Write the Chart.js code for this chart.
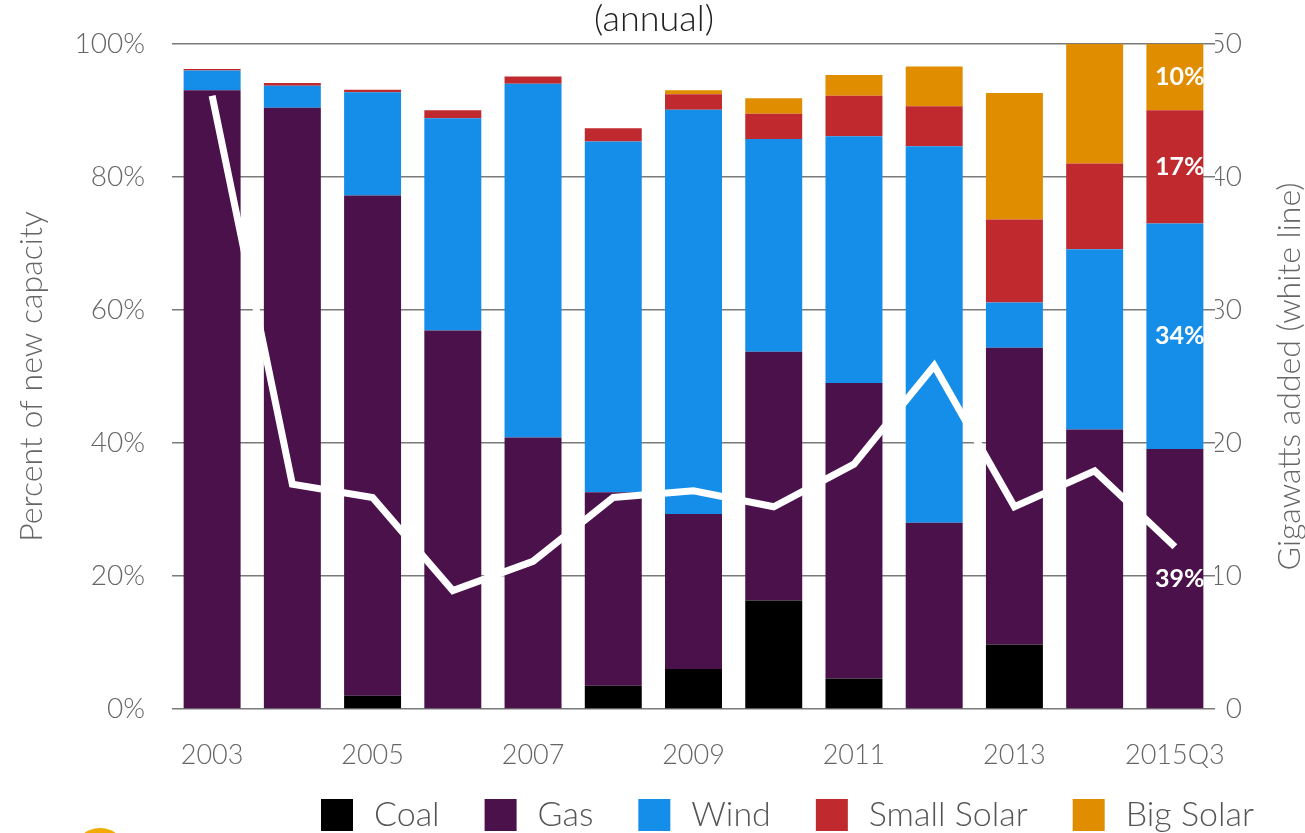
<!DOCTYPE html>
<html lang="en">
<head>
  <meta charset="UTF-8" />
  <title>New capacity (annual)</title>
  <script src="https://cdn.jsdelivr.net/npm/chart.js"></script>
  <style>
    body { margin: 0; background: #fff; }
    canvas { display: block; }
  </style>
</head>
<body>
  <canvas id="mixChart" width="1305" height="833"></canvas>

  <script>
    // values (percent of new capacity, GW added)
    const years = ["2003", "2004", "2005", "2006", "2007", "2008", "2009", "2010", "2011", "2012", "2013", "2014", "2015Q3"];
    const coal = [0, 0, 2.0, 0, 0, 3.5, 6.0, 16.3, 4.6, 0, 9.7, 0, 0];
    const gas = [93.0, 90.4, 75.2, 56.9, 40.8, 29.1, 23.3, 37.4, 44.4, 28.0, 44.6, 42.0, 39.1];
    const wind = [3.0, 3.3, 15.5, 31.9, 53.2, 52.7, 60.8, 32.0, 37.1, 56.6, 6.8, 27.1, 33.9];
    const smallSolar = [0.2, 0.4, 0.4, 1.2, 1.1, 2.0, 2.3, 3.8, 6.1, 6.0, 12.5, 12.9, 17.0];
    const bigSolar = [0, 0, 0, 0, 0, 0, 0.6, 2.3, 3.1, 6.0, 19.0, 18.0, 10.0];
    const gigawatts = [46.1, 16.9, 15.9, 8.9, 11.1, 15.9, 16.4, 15.2, 18.4, 25.8, 15.2, 17.9, 12.2];

    const FONT = "Lato, 'Open Sans', sans-serif";
    const GREY = "#666";

    const bar = (label, data, color) => ({
      type: "bar", label, data, backgroundColor: color,
      categoryPercentage: 1, barPercentage: 0.71, order: 1
    });

    // title, right axis title, legend, last-bar labels
    const extras = {
      id: "extras",
      afterDatasetsDraw(chart) {
        const ctx = chart.ctx;
        const last = chart.data.labels.length - 1;
        ctx.save();
        ctx.fillStyle = "#fff";
        ctx.font = "bold 25px " + FONT;
        ctx.textAlign = "right";
        ctx.textBaseline = "middle";
        chart.data.datasets.forEach((ds, i) => {
          if (ds.type !== "bar" || !ds.data[last]) return;
          const el = chart.getDatasetMeta(i).data[last];
          ctx.fillText(Math.round(ds.data[last]) + "%", el.x + el.width / 2 + 1, (el.y + el.base) / 2);
        });
        ctx.restore();
      },
      afterDraw(chart) {
        const ctx = chart.ctx;
        const area = chart.chartArea;

        ctx.save();
        ctx.fillStyle = "#222";
        ctx.font = "300 36px " + FONT;
        ctx.textAlign = "center";
        ctx.textBaseline = "middle";
        ctx.fillText("(annual)", 654, 19);
        ctx.restore();

        // right axis title, reading bottom to top
        ctx.save();
        ctx.translate(1290, (area.top + area.bottom) / 2);
        ctx.rotate(-Math.PI / 2);
        ctx.fillStyle = GREY;
        ctx.font = "300 32px " + FONT;
        ctx.textAlign = "center";
        ctx.textBaseline = "middle";
        ctx.fillText("Gigawatts added (white line)", 0, 0);
        ctx.restore();

        // legend
        ctx.save();
        ctx.font = "300 34px " + FONT;
        ctx.textBaseline = "middle";
        let x = 321;
        const y = 815;
        chart.data.datasets.filter(d => d.type === "bar").forEach(ds => {
          ctx.fillStyle = ds.backgroundColor;
          ctx.fillRect(x, y - 16, 32, 32);
          ctx.fillStyle = "#555";
          ctx.fillText(ds.label, x + 53, y);
          x += 53 + ctx.measureText(ds.label).width + 45;
        });

        // logo peeking in at the bottom
        ctx.beginPath();
        ctx.arc(100, 855, 27, 0, Math.PI * 2);
        ctx.fillStyle = "#f2a900";
        ctx.fill();
        ctx.restore();
      }
    };

    new Chart(document.getElementById("mixChart"), {
      data: {
        labels: years,
        datasets: [
          { type: "line", label: "GW added", data: gigawatts, yAxisID: "y2",
            borderColor: "#fff", borderWidth: 7, pointRadius: 0, tension: 0, order: -1 },
          bar("Coal", coal, "#000000"),
          bar("Gas", gas, "#4a114b"),
          bar("Wind", wind, "#148ee8"),
          bar("Small Solar", smallSolar, "#c02a2f"),
          bar("Big Solar", bigSolar, "#e08e00")
        ]
      },
      options: {
        responsive: false,
        animation: false,
        layout: { padding: { top: 42, left: 0, right: 63, bottom: 64 } },
        plugins: {
          legend: { display: false },
          tooltip: { enabled: false },
          title: { display: false }
        },
        scales: {
          x: {
            stacked: true,
            grid: { display: false },
            border: { display: false },
            afterFit: s => { s.height = 60; },
            ticks: {
              autoSkip: false, maxRotation: 0, padding: 22,
              color: GREY, font: { family: FONT, size: 27, weight: "300" },
              callback: function (v, i) { return i % 2 === 0 ? this.getLabelForValue(v) : ""; }
            }
          },
          y: {
            stacked: true,
            min: 0, max: 100,
            afterFit: s => { s.width = 172; },
            grid: { color: "#7a7a7a", lineWidth: 1.5, drawTicks: false },
            border: { display: false },
            ticks: {
              stepSize: 20, padding: 27,
              color: GREY, font: { family: FONT, size: 28, weight: "300" },
              callback: v => v + "%"
            },
            title: {
              display: true, text: "Percent of new capacity",
              color: GREY, font: { family: FONT, size: 32, weight: "300" },
              padding: { top: 12, bottom: 0 }
            }
          },
          y2: {
            position: "right",
            min: 0, max: 50,
            afterFit: s => { s.width = 27; },
            grid: { display: false, drawTicks: false },
            border: { display: false },
            ticks: {
              stepSize: 10, padding: 0, crossAlign: "far",
              color: GREY, font: { family: FONT, size: 28, weight: "300" }
            }
          }
        }
      },
      plugins: [extras]
    });
  </script>
</body>
</html>
